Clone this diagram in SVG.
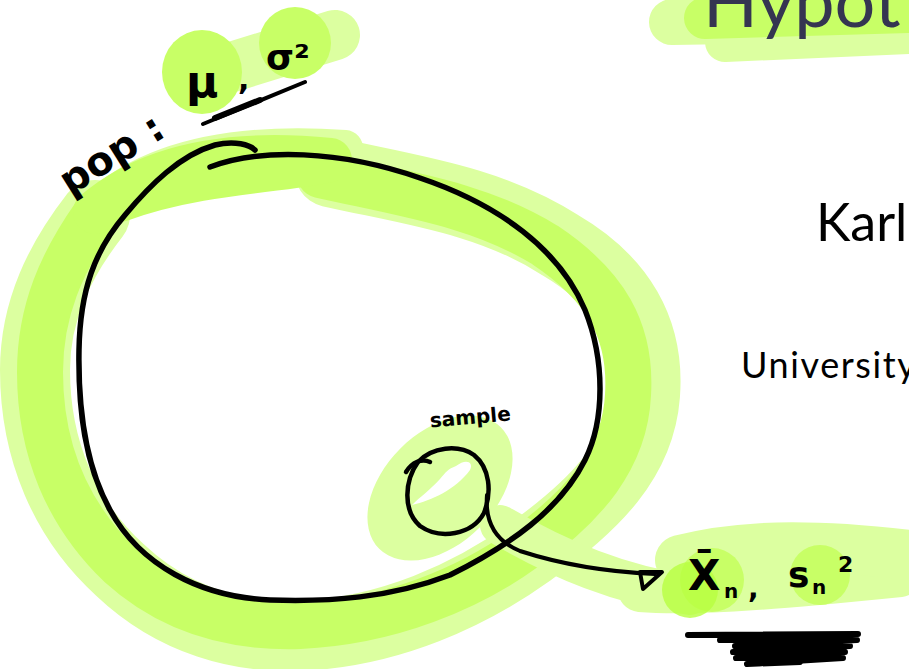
<svg xmlns="http://www.w3.org/2000/svg" width="909" height="669" viewBox="0 0 909 669">
<style>
.ink{fill:none;stroke:#000;stroke-linecap:round;stroke-linejoin:round}
.hl1{fill:none;stroke:#dcffa0;stroke-linecap:round;stroke-linejoin:round}
.hl2{fill:none;stroke:#c8ff66;stroke-linecap:round;stroke-linejoin:round}
.hand{font-family:"DejaVu Sans",sans-serif;font-weight:bold;fill:#000}
.slide{font-family:"Lato","Liberation Sans",sans-serif}
</style>
<rect width="909" height="669" fill="#fff"/>
<g id="title-highlight">
<path class="hl1" d="M672,22 L909,18" stroke-width="46"/>
<path class="hl1" d="M725,42 L909,34" stroke-width="40"/>
<path class="hl2" d="M705,18 L909,12" stroke-width="42"/>
</g>
<g id="population-highlight">
<path class="hl1" d="M95,215 C60,260 35,310 35,370 C35,450 65,520 120,570 C175,622 240,638 300,636 C390,632 470,595 530,552 C595,505 640,460 645,395 C650,330 620,280 560,245 C490,200 410,190 330,172" stroke-width="70"/>
<path class="hl1" d="M100,205 C150,160 230,140 345,148" stroke-width="36"/>
<path class="hl2" d="M95,215 C62,262 40,310 40,372 C40,450 68,515 120,565 C175,615 240,628 300,626 C390,622 470,588 525,548 C585,505 625,458 628,395 C632,330 605,285 545,245 C480,205 410,195 320,175" stroke-width="46"/>
<path class="hl2" d="M95,212 C150,165 230,150 330,160 C300,170 200,170 120,200" stroke-width="44"/>
</g>
<g id="arrow-highlight">
<path class="hl1" d="M500,525 C560,560 620,585 690,595" stroke-width="40"/>
</g>
<g id="sample-highlight">
<ellipse cx="440" cy="488" rx="86" ry="56" transform="rotate(-45 440 488)" fill="#dcffa0"/>
<path d="M412,505 C432,500 455,490 470,470 C474,462 466,458 456,466 C448,469 446,472 440,479 C430,490 420,497 412,505 Z" fill="#fff"/>
</g>
<g id="params-highlight">
<path class="hl1" d="M190,80 L335,35" stroke-width="50"/>
<ellipse cx="202" cy="72" rx="40" ry="42" fill="#c8ff66"/>
<circle cx="295" cy="43" r="36" fill="#c8ff66"/>
</g>
<g id="stats-highlight">
<path class="hl1" d="M640,590 C700,595 800,585 900,575" stroke-width="44"/>
<path class="hl1" d="M680,560 C720,550 780,540 909,555" stroke-width="50"/>
<circle cx="712" cy="580" r="32" fill="#c8ff66"/>
<circle cx="820" cy="575" r="30" fill="#c8ff66"/>
<circle cx="690" cy="590" r="28" fill="#b8ff40" opacity="0.8"/>
</g>
<g id="slide-text">
<text class="slide" x="703" y="27" font-size="72" font-weight="400" fill="#353551">Hypot</text>
<text class="slide" x="816" y="241" font-size="52" fill="#000">Karl</text>
<text class="slide" x="741" y="378" font-size="36" letter-spacing="1.6" fill="#000">University</text>
</g>
<g id="population">
<path class="ink" stroke-width="5.5" d="M210,167 C260,148 340,150 420,178 C500,205 560,250 585,310 C605,360 605,420 585,460 C560,510 510,545 450,575 C390,598 330,602 270,600 C200,597 140,565 110,510 C85,465 78,410 79,350 C80,290 95,250 125,215 C150,185 180,155 215,145 C235,140 250,145 255,150"/>
<text class="hand" x="0" y="0" font-size="40" transform="translate(70,196) rotate(-32)">pop :</text>
</g>
<g id="params">
<text class="hand" x="186" y="97" font-size="44">μ</text>
<text class="hand" x="238" y="90" font-size="30">,</text>
<text class="hand" x="266" y="70" font-size="36">σ²</text>
<path class="ink" stroke-width="4" d="M203,124 L305,82"/>
<path class="ink" stroke-width="6" d="M215,118 L260,100"/>
</g>
<g id="sample">
<text class="hand" x="430" y="424" font-size="20" transform="rotate(-5 470 420)">sample</text>
<path class="ink" stroke-width="4.5" d="M406,472 C412,462 422,458 430,462"/>
<path class="ink" stroke-width="4.5" d="M418,462 C405,480 402,510 420,526 C440,540 472,535 484,513 C492,492 490,468 474,455 C458,444 432,447 418,462"/>
</g>
<g id="connectors">
<path class="ink" stroke-width="4" d="M487,495 C485,520 493,540 520,551 C560,564 610,572 655,574"/>
<path class="ink" stroke-width="4" d="M662,572 L640,572 L643,589 Z"/>
</g>
<g id="stats">
<text class="hand" x="688" y="590" font-size="42">X̄</text>
<text class="hand" x="724" y="598" font-size="20">n</text>
<text class="hand" x="748" y="598" font-size="28">,</text>
<text class="hand" x="788" y="587" font-size="36">s</text>
<text class="hand" x="812" y="594" font-size="20">n</text>
<text class="hand" x="838" y="572" font-size="22">2</text>
<polyline class="ink" stroke-width="6" points="688,635 858,634 720,640 857,640 735,646 850,646 733,652 845,652 736,658 843,658 747,664 800,662"/>
</g>
</svg>
